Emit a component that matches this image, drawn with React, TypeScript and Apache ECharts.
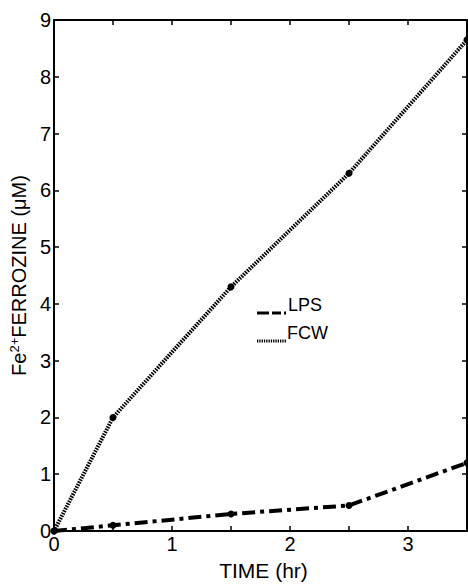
import React, { useEffect, useRef } from "react";
import * as echarts from "echarts";

const timeHr = [0, 0.5, 1.5, 2.5, 3.5];
const fcwValues = [0, 2.0, 4.3, 6.3, 8.65];
const lpsValues = [0, 0.1, 0.3, 0.45, 1.2];
const xTickLabels = ["0", "1", "2", "3"];
const legendNames = ["LPS", "FCW"];

const FONT = "'Liberation Sans', Arial, sans-serif";

export default function App() {
  const ref = useRef<HTMLDivElement>(null);
  useEffect(() => {
    document.body.style.margin = "0";
    const chart = echarts.init(ref.current!, null, { renderer: "svg" });
    const pair = (vals: number[]) => timeHr.map((t, i) => [t, vals[i]]);
    const axisCommon = {
      type: "value" as const,
      axisLine: { show: true, onZero: false, lineStyle: { color: "#000", width: 2 } },
      axisTick: { show: true, inside: true, length: 5, lineStyle: { color: "#000", width: 1.5 } },
      splitLine: { show: false },
    };
    chart.setOption({
      animation: false,
      backgroundColor: "#fff",
      grid: { left: 46, right: 1, top: 20, bottom: 35, containLabel: false },
      xAxis: [
        {
          ...axisCommon,
          min: 0,
          max: 3.5,
          interval: 0.5,
          name: "TIME (hr)",
          nameLocation: "middle",
          nameGap: 29,
          nameTextStyle: { fontFamily: FONT, fontSize: 21, color: "#000", padding: [0, 0, 0, 6] },
          axisLabel: {
            margin: 3,
            fontFamily: FONT,
            fontSize: 20,
            color: "#000",
            formatter: (v: number) => (xTickLabels.includes(String(v)) ? String(v) : ""),
            showMaxLabel: false,
          },
        },
        {
          ...axisCommon,
          position: "top",
          min: 0,
          max: 3.5,
          interval: 0.5,
          axisLabel: { show: false },
        },
      ],
      yAxis: [
        {
          ...axisCommon,
          min: 0,
          max: 9,
          interval: 1,
          name: "{a|Fe}{s|2+}{a|FERROZINE (μM)}",
          nameLocation: "middle",
          nameGap: 15,
          nameRotate: 90,
          nameTextStyle: {
            fontFamily: FONT,
            fontSize: 20,
            color: "#000",
            rich: {
              a: { fontFamily: FONT, fontSize: 20, color: "#000" },
              s: { fontFamily: FONT, fontSize: 13, color: "#000", verticalAlign: "top", padding: [0, 0, 9, 0] },
            },
          },
          axisLabel: { margin: 3, fontFamily: FONT, fontSize: 20, color: "#000" },
        },
        {
          ...axisCommon,
          position: "right",
          min: 0,
          max: 9,
          interval: 1,
          axisLabel: { show: false },
        },
      ],
      series: [
        {
          name: "FCW",
          type: "line",
          data: pair(fcwValues),
          symbol: "circle",
          symbolSize: 7,
          itemStyle: { color: "#000" },
          lineStyle: { color: "#000", width: 4, type: [1.6, 1.1] },
          z: 3,
        },
        {
          name: "LPS",
          type: "line",
          data: pair(lpsValues),
          symbol: "circle",
          symbolSize: 7,
          itemStyle: { color: "#000" },
          lineStyle: { color: "#000", width: 4, type: [13, 5, 4, 5] },
          z: 3,
        },
      ],
      graphic: [
        {
          type: "line",
          shape: { x1: 257, y1: 313, x2: 286, y2: 313 },
          style: { stroke: "#000", lineWidth: 3, lineDash: [12, 3, 9, 3, 3, 1] },
        },
        {
          type: "text",
          x: 288,
          y: 314,
          style: { text: legendNames[0], fontFamily: FONT, fontSize: 18, fill: "#000", verticalAlign: "bottom" },
        },
        {
          type: "line",
          shape: { x1: 257, y1: 341, x2: 287, y2: 341 },
          style: { stroke: "#000", lineWidth: 3, lineDash: [1.3, 1] },
        },
        {
          type: "text",
          x: 287,
          y: 342,
          style: { text: legendNames[1], fontFamily: FONT, fontSize: 18, fill: "#000", verticalAlign: "bottom" },
        },
      ],
    });
    return () => chart.dispose();
  }, []);
  return <div ref={ref} style={{ width: 468, height: 586 }} />;
}
